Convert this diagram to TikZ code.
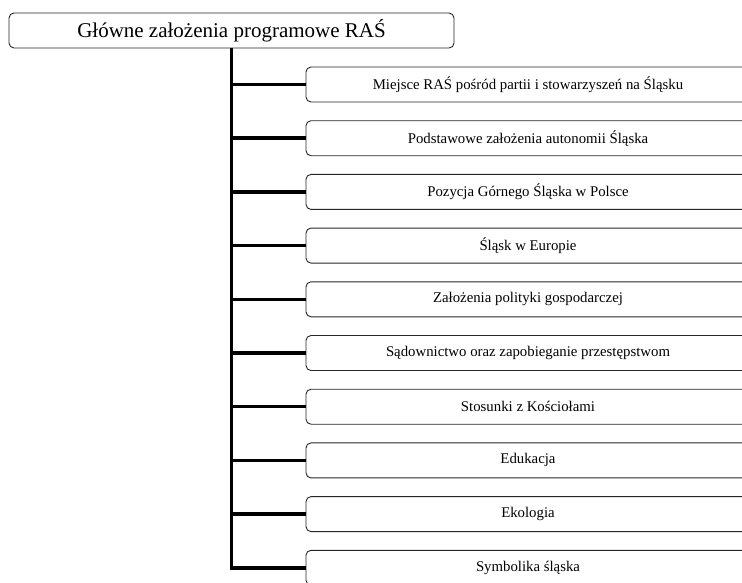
\documentclass[tikz,border=0pt]{standalone}
\usepackage{fontspec}
\setmainfont{Liberation Serif}
\usepackage{xcolor}
\usepackage{tikz}
\usetikzlibrary{positioning}

\begin{document}
\begin{tikzpicture}[
    x=1pt, y=-1pt,
    topic/.style={rectangle, rounded corners=5pt, draw=black!85, line width=0.9pt,
                  minimum width=445pt, minimum height=35pt, inner sep=0pt,
                  font=\fontsize{21}{25}\selectfont},
    item/.style={rectangle, rounded corners=5pt, draw=black!85, line width=0.9pt,
                 minimum width=444pt, minimum height=35pt, inner sep=0pt,
                 font=\fontsize{14.8}{17}\selectfont},
    branch/.style={line width=3.5pt}
]
\clip (0,0) rectangle (742,582);

% main topic
\node[topic] (main) at (231.5, 30.5) {Główne założenia programowe RAŚ};

% program items
\node[item] (p1)  at (528, 84.5)  {Miejsce RAŚ pośród partii i stowarzyszeń na Śląsku};
\node[item] (p2)  at (528, 138.2) {Podstawowe założenia autonomii Śląska};
\node[item] (p3)  at (528, 191.9) {Pozycja Górnego Śląska w Polsce};
\node[item] (p4)  at (528, 245.6) {Śląsk w Europie};
\node[item] (p5)  at (528, 299.3) {Założenia polityki gospodarczej};
\node[item] (p6)  at (528, 353.0) {Sądownictwo oraz zapobieganie przestępstwom};
\node[item] (p7)  at (528, 406.7) {Stosunki z Kościołami};
\node[item] (p8)  at (528, 460.4) {Edukacja};
\node[item] (p9)  at (528, 514.1) {Ekologia};
\node[item] (p10) at (528, 567.8) {Symbolika śląska};

% trunk and branches
\draw[branch] (main.south) |- (p10.west);
\draw[branch] (main.south |- p1.west) -- (p1.west);
\draw[branch] (main.south |- p2.west) -- (p2.west);
\draw[branch] (main.south |- p3.west) -- (p3.west);
\draw[branch] (main.south |- p4.west) -- (p4.west);
\draw[branch] (main.south |- p5.west) -- (p5.west);
\draw[branch] (main.south |- p6.west) -- (p6.west);
\draw[branch] (main.south |- p7.west) -- (p7.west);
\draw[branch] (main.south |- p8.west) -- (p8.west);
\draw[branch] (main.south |- p9.west) -- (p9.west);
\end{tikzpicture}
\end{document}
